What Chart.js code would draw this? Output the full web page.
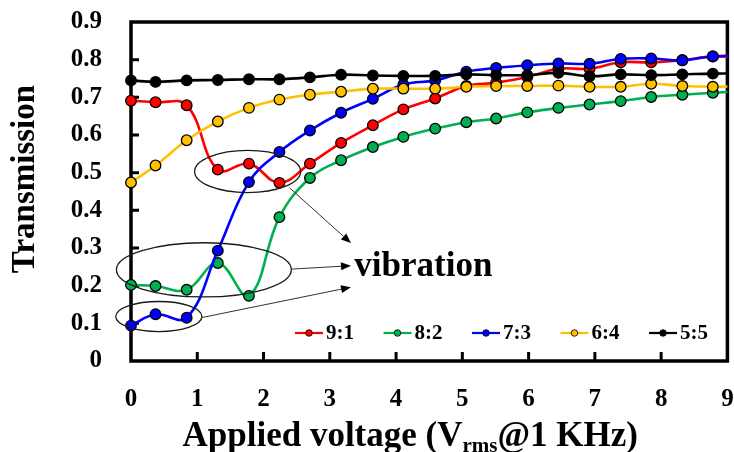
<!DOCTYPE html>
<html><head><meta charset="utf-8">
<script src="https://cdn.jsdelivr.net/npm/chart.js@4/dist/chart.umd.min.js"></script>
<style>html,body{margin:0;padding:0;background:#fff}</style>
</head><body>
<canvas id="c" width="734" height="452"></canvas>
<script>
// ---- data ----
const voltages = [0,0.37,0.84,1.31,1.78,2.24,2.70,3.17,3.65,4.11,4.59,5.06,5.51,5.98,6.45,6.92,7.39,7.85,8.32,8.78,9.25];
const series91 = [0.691,0.687,0.679,0.508,0.524,0.473,0.524,0.579,0.626,0.668,0.697,0.730,0.739,0.754,0.776,0.776,0.793,0.793,0.799,0.808,0.805];
const series82 = [0.202,0.199,0.189,0.260,0.173,0.382,0.486,0.533,0.568,0.595,0.617,0.634,0.644,0.660,0.672,0.681,0.690,0.701,0.707,0.712,0.716];
const series73 = [0.094,0.124,0.115,0.293,0.475,0.555,0.612,0.659,0.696,0.734,0.745,0.768,0.778,0.785,0.790,0.789,0.802,0.803,0.798,0.809,0.810];
const series64 = [0.474,0.519,0.586,0.636,0.672,0.694,0.707,0.715,0.723,0.723,0.723,0.728,0.730,0.730,0.731,0.728,0.728,0.736,0.730,0.728,0.730];
const series55 = [0.745,0.741,0.745,0.746,0.748,0.748,0.753,0.760,0.758,0.757,0.757,0.761,0.759,0.759,0.765,0.756,0.761,0.759,0.761,0.763,0.763];
const seriesLabels = ['9:1','8:2','7:3','6:4','5:5'];
const seriesValues = [series91, series82, series73, series64, series55];
const seriesColors = ['#FF0000','#00B050','#0000FF','#FFC000','#000000'];
const xTicks = [0,1,2,3,4,5,6,7,8,9];
const yTicks = [0,0.1,0.2,0.3,0.4,0.5,0.6,0.7,0.8,0.9];
const xTitleParts = ['Applied voltage (V','rms','@1 KHz)'];
const yTitle = 'Transmission';
const noteText = 'vibration';
// annotation ellipses [cx, cy, rx, ry] and arrows [x0,y0,x1,y1] in data units
const noteEllipses = [[1.76,0.503,0.80,0.056],[1.10,0.242,1.32,0.072],[0.42,0.118,0.65,0.040]];
const noteArrows = [[2.39,0.460,3.32,0.313],[2.43,0.244,3.32,0.253],[1.06,0.115,3.32,0.196]];
const notePos = [3.37,0.226];

const FONT = '"Liberation Serif","Times New Roman",serif';

const deco = {
  id: 'deco',
  beforeDatasetsDraw(chart) {
    const {ctx, chartArea: a, scales: {x, y}} = chart;
    ctx.save();
    ctx.strokeStyle = '#000';
    ctx.lineWidth = 3.5;
    ctx.strokeRect(a.left, a.top, a.right - a.left, a.bottom - a.top);
    ctx.lineWidth = 3;
    ctx.beginPath();
    xTicks.forEach(v => {
      if (v > x.min && v < x.max) {
        const px = x.getPixelForValue(v);
        ctx.moveTo(px, a.bottom); ctx.lineTo(px, a.bottom - 9);
      }
    });
    yTicks.forEach(v => {
      if (v > y.min && v < y.max) {
        const py = y.getPixelForValue(v);
        ctx.moveTo(a.left, py); ctx.lineTo(a.left + 8, py);
      }
    });
    ctx.stroke();
    ctx.restore();
  },
  afterDatasetsDraw(chart) {
    const {ctx, chartArea: a, scales: {x, y}} = chart;
    ctx.save();
    // ellipses
    ctx.strokeStyle = '#1a1a1a';
    ctx.lineWidth = 1.3;
    noteEllipses.forEach(([cx, cy, rx, ry]) => {
      const px = x.getPixelForValue(cx), py = y.getPixelForValue(cy);
      const prx = x.getPixelForValue(cx + rx) - px, pry = py - y.getPixelForValue(cy + ry);
      ctx.beginPath(); ctx.ellipse(px, py, prx, pry, 0, 0, Math.PI * 2); ctx.stroke();
    });
    // arrows
    noteArrows.forEach(([x0, y0, x1, y1]) => {
      const ax = x.getPixelForValue(x0), ay = y.getPixelForValue(y0);
      const bx = x.getPixelForValue(x1), by = y.getPixelForValue(y1);
      const ang = Math.atan2(by - ay, bx - ax);
      const L = 10, W = 4;
      ctx.strokeStyle = '#333'; ctx.lineWidth = 1;
      ctx.beginPath(); ctx.moveTo(ax, ay);
      ctx.lineTo(bx - L * Math.cos(ang), by - L * Math.sin(ang)); ctx.stroke();
      ctx.fillStyle = '#000';
      ctx.beginPath();
      ctx.moveTo(bx, by);
      ctx.lineTo(bx - L * Math.cos(ang) + W * Math.sin(ang), by - L * Math.sin(ang) - W * Math.cos(ang));
      ctx.lineTo(bx - L * Math.cos(ang) - W * Math.sin(ang), by - L * Math.sin(ang) + W * Math.cos(ang));
      ctx.closePath(); ctx.fill();
    });
    // note text
    ctx.fillStyle = '#000';
    ctx.font = 'bold 35px ' + FONT;
    ctx.textAlign = 'left'; ctx.textBaseline = 'alphabetic';
    ctx.fillText(noteText, x.getPixelForValue(notePos[0]), y.getPixelForValue(notePos[1]));
    // legend
    const ly = a.bottom - 28;
    let lx = a.left + 164;
    ctx.font = 'bold 21px ' + FONT;
    ctx.textBaseline = 'middle';
    seriesLabels.forEach((lab, i) => {
      ctx.strokeStyle = seriesColors[i]; ctx.lineWidth = 2.2;
      ctx.beginPath(); ctx.moveTo(lx, ly); ctx.lineTo(lx + 28, ly); ctx.stroke();
      ctx.fillStyle = seriesColors[i]; ctx.strokeStyle = '#000'; ctx.lineWidth = 0.8;
      ctx.beginPath(); ctx.arc(lx + 14, ly, 3.3, 0, Math.PI * 2); ctx.fill(); ctx.stroke();
      ctx.fillStyle = '#000';
      ctx.fillText(lab, lx + 31, ly + 1);
      lx += 88.5;
    });
    // x title with subscript
    const big = 'bold 35px ' + FONT, small = 'bold 21px ' + FONT;
    ctx.font = big; const w0 = ctx.measureText(xTitleParts[0]).width, w2 = ctx.measureText(xTitleParts[2]).width;
    ctx.font = small; const w1 = ctx.measureText(xTitleParts[1]).width;
    const total = w0 + w1 + w2;
    let tx = (a.left + a.right) / 2 - 19 - total / 2;
    const base = 446;
    ctx.textBaseline = 'alphabetic'; ctx.textAlign = 'left';
    ctx.font = big; ctx.fillText(xTitleParts[0], tx, base); tx += w0;
    ctx.font = small; ctx.fillText(xTitleParts[1], tx, base + 6); tx += w1;
    ctx.font = big; ctx.fillText(xTitleParts[2], tx, base);
    // y title
    ctx.save();
    ctx.translate(25, 179); ctx.rotate(-Math.PI / 2);
    ctx.font = 'bold 33px ' + FONT; ctx.textAlign = 'center'; ctx.textBaseline = 'middle';
    ctx.fillText(yTitle, 0, 0);
    ctx.restore();
    ctx.restore();
  }
};

const datasets = seriesValues.map((vals, i) => ({
  label: seriesLabels[i],
  data: voltages.map((v, j) => ({x: v, y: vals[j]})),
  borderColor: seriesColors[i],
  backgroundColor: seriesColors[i],
  pointBackgroundColor: seriesColors[i],
  pointBorderColor: '#000',
  pointBorderWidth: 1.3,
  pointRadius: 5.3,
  borderWidth: 2.6,
  tension: 0.4,
  order: 5 - i,
  clip: {left: false, top: false, right: 0, bottom: false}
}));

const tickFont = {family: FONT, size: 25, weight: 'bold'};
new Chart(document.getElementById('c'), {
  type: 'line',
  data: {datasets},
  options: {
    responsive: false, animation: false, devicePixelRatio: 1,
    layout: {padding: {left: 0, right: 5, top: 22, bottom: 0}},
    plugins: {legend: {display: false}, tooltip: {enabled: false}},
    scales: {
      x: {
        type: 'linear', min: 0, max: 9,
        afterBuildTicks: s => { s.ticks = xTicks.map(v => ({value: v})); },
        grid: {display: false, drawTicks: false},
        border: {display: false},
        ticks: {font: tickFont, color: '#000', padding: 24, maxRotation: 0, autoSkip: false,
                callback: v => String(v)},
        afterFit: s => { s.height = 91; s.paddingLeft = 0; s.paddingRight = 0; }
      },
      y: {
        type: 'linear', min: 0, max: 0.9,
        afterBuildTicks: s => { s.ticks = yTicks.map(v => ({value: v})); },
        grid: {display: false, drawTicks: false},
        border: {display: false},
        ticks: {font: tickFont, color: '#000', padding: 29, autoSkip: false,
                callback: v => v === 0 ? '0' : v.toFixed(1)},
        afterFit: s => { s.width = 131; s.paddingTop = 0; s.paddingBottom = 0; }
      }
    }
  },
  plugins: [deco]
});
</script>
</body></html>
